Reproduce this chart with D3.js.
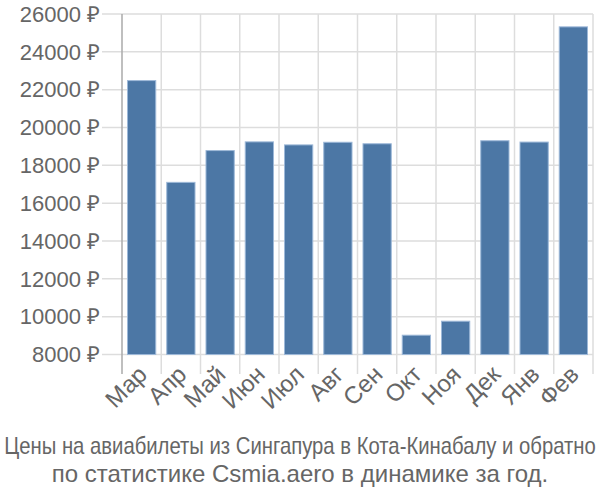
<!DOCTYPE html>
<html><head><meta charset="utf-8">
<script src="https://cdn.jsdelivr.net/npm/d3@7"></script>
<style>body{margin:0;background:#fff}svg{display:block}text{font-family:"Liberation Sans",Arial,sans-serif}</style>
</head><body><svg id="c" width="600" height="500"></svg>
<script>
const months = ["Мар","Апр","Май","Июн","Июл","Авг","Сен","Окт","Ноя","Дек","Янв","Фев"];
const prices = [22480,17100,18780,19240,19080,19220,19140,9020,9760,19300,19230,25320];
const yTicks = [8000,10000,12000,14000,16000,18000,20000,22000,24000,26000];
const titleLines = ["Цены на авиабилеты из Сингапура в Кота-Кинабалу и обратно","по статистике Csmia.aero в динамике за год."];

const svg = d3.select("#c");
const L=122,R=593,T=14,B=354.5;
const x = d3.scaleBand().domain(months).range([L,R]).paddingInner(0.28).paddingOuter(0.14);
const y = d3.scaleLinear().domain([8000,26000]).range([B,T]);

svg.append("g").selectAll("line").data(yTicks).join("line")
  .attr("x1",102).attr("x2",R).attr("y1",d=>y(d)).attr("y2",d=>y(d))
  .attr("stroke","#ddd").attr("stroke-width",1.5);
const bounds = d3.range(months.length+1).map(i=>L+i*(R-L)/months.length);
svg.append("g").selectAll("line").data(bounds.slice(1)).join("line")
  .attr("x1",d=>d).attr("x2",d=>d).attr("y1",T).attr("y2",374)
  .attr("stroke","#ddd").attr("stroke-width",1.5);
svg.append("line").attr("x1",L).attr("x2",L).attr("y1",T).attr("y2",374)
  .attr("stroke","#aaa").attr("stroke-width",1.5);

svg.append("g").selectAll("text").data(yTicks).join("text")
  .attr("x",100).attr("y",d=>y(d)).attr("dy","0.35em").attr("text-anchor","end")
  .attr("font-size",22).attr("fill","#666").text(d=>d+" ₽");

svg.append("g").selectAll("rect").data(prices).join("rect")
  .attr("x",(d,i)=>x(months[i])).attr("width",x.bandwidth())
  .attr("y",d=>y(d)).attr("height",d=>B-y(d))
  .attr("fill","#4c77a5").attr("stroke","#9db8d8").attr("stroke-width",1);

svg.append("g").selectAll("text").data(months).join("text")
  .attr("transform",d=>`translate(${x(d)+x.bandwidth()/2+1},${370}) rotate(-45)`)
  .attr("text-anchor","end").attr("dy","0.35em")
  .attr("font-size",24).attr("fill","#666").text(d=>d);

const t1 = svg.append("text").attr("text-anchor","middle")
  .attr("font-size",23).attr("fill","#666").text(titleLines[0]);
const w1 = t1.node().getComputedTextLength();
const s1 = Math.min(1, 592 / w1);
t1.attr("transform",`translate(300,454) scale(${s1},1)`);
svg.append("text").attr("x",300).attr("y",482).attr("text-anchor","middle")
  .attr("font-size",24).attr("fill","#666").text(titleLines[1]);
</script></body></html>
